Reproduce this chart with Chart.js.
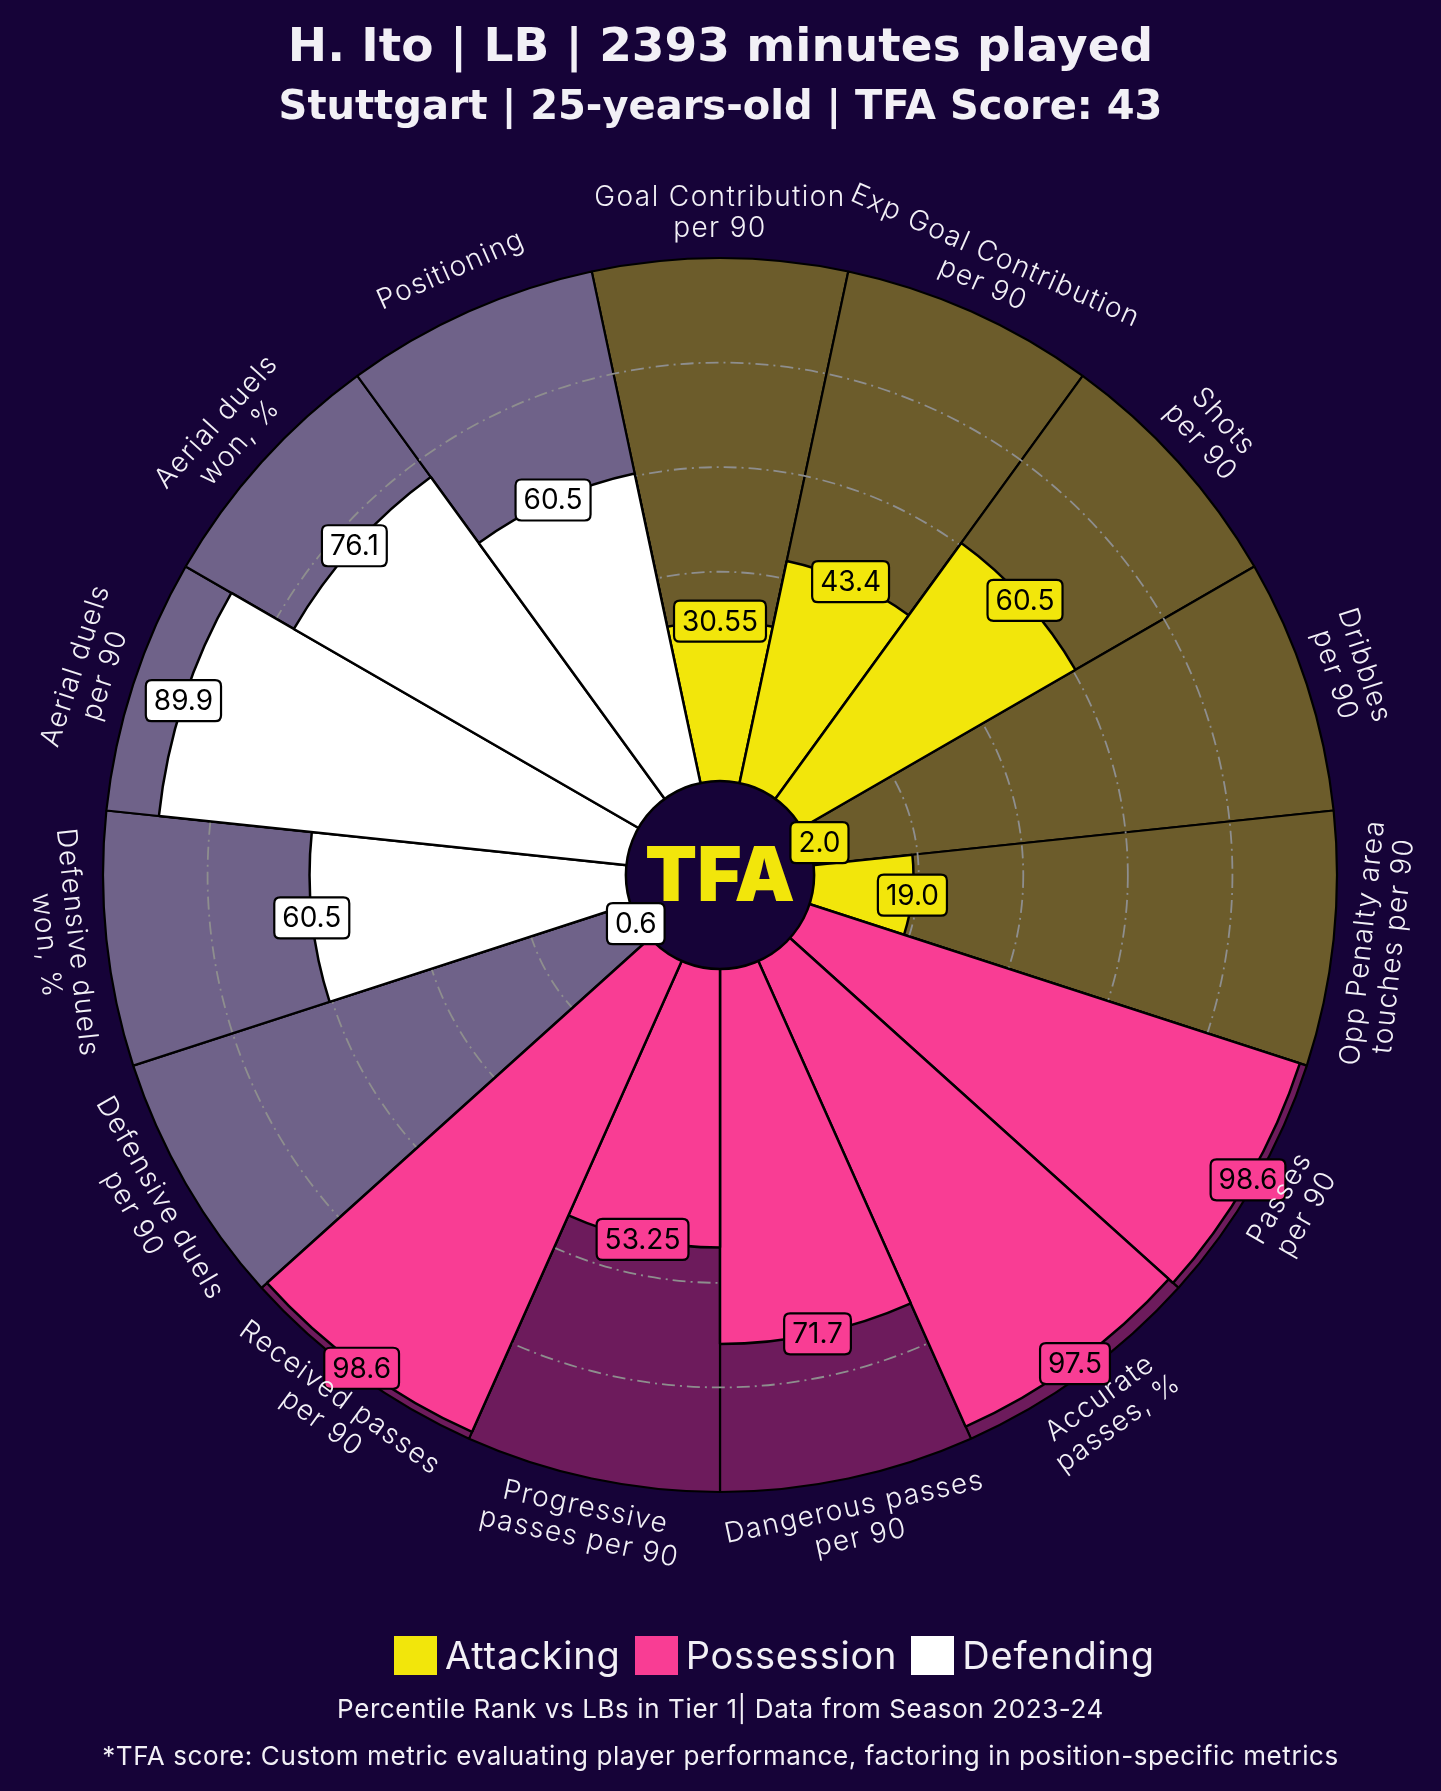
<!DOCTYPE html>
<html>
<head>
<meta charset="utf-8">
<script src="https://cdn.jsdelivr.net/npm/chart.js@4.4.1/dist/chart.umd.min.js"></script>
<style>
  html, body { margin: 0; padding: 0; background: #160338; }
  body { width: 1441px; height: 1791px; position: relative; overflow: hidden; font-family: Inter, 'Noto Sans', sans-serif; color: #f2f0f6; }
  #chart { position: absolute; left: 0; top: 0; }
  .line { position: absolute; left: 0; width: 1441px; text-align: center; white-space: nowrap; }
  #title { top: 19px; font-family: 'DejaVu Sans', sans-serif; font-size: 47px; line-height: 52px; font-weight: 700; }
  #subtitle { top: 83px; font-family: 'DejaVu Sans', sans-serif; font-size: 40px; line-height: 44px; font-weight: 700; }
  #legend { position: absolute; left: 394px; top: 1632px; height: 46px; display: flex; align-items: center; gap: 14px; }
  #legend .item { display: flex; align-items: center; gap: 8px; font-size: 38px; line-height: 46px; letter-spacing: 0.8px; }
  #legend .sw { width: 43px; height: 39px; display: inline-block; }
  #note1 { top: 1694px; font-size: 26px; line-height: 30px; letter-spacing: 0.6px; }
  #note2 { top: 1741px; font-size: 26px; line-height: 30px; letter-spacing: 0.6px; }
</style>
</head>
<body>
<canvas id="chart" width="1441" height="1791"></canvas>
<div class="line" id="title">H. Ito | LB | 2393 minutes played</div>
<div class="line" id="subtitle">Stuttgart | 25-years-old | TFA Score: 43</div>
<div id="legend"></div>
<div class="line" id="note1">Percentile Rank vs LBs in Tier 1| Data from Season 2023-24</div>
<div class="line" id="note2">*TFA score: Custom metric evaluating player performance, factoring in position-specific metrics</div>
<script>
// clockwise from the top
const categories = [
  ['Goal Contribution', 'per 90'],
  ['Exp Goal Contribution', 'per 90'],
  ['Shots', 'per 90'],
  ['Dribbles', 'per 90'],
  ['Opp Penalty area', 'touches per 90'],
  ['Passes', 'per 90'],
  ['Accurate', 'passes, %'],
  ['Dangerous passes', 'per 90'],
  ['Progressive', 'passes per 90'],
  ['Received passes', 'per 90'],
  ['Defensive duels', 'per 90'],
  ['Defensive duels', 'won, %'],
  ['Aerial duels', 'per 90'],
  ['Aerial duels', 'won, %'],
  ['Positioning']
];
const percentiles = [30.55, 43.4, 60.5, 2.0, 19.0, 98.6, 97.5, 71.7, 53.25, 98.6, 0.6, 60.5, 89.9, 76.1, 60.5];
const groupOf = ['att', 'att', 'att', 'att', 'att', 'pos', 'pos', 'pos', 'pos', 'pos', 'def', 'def', 'def', 'def', 'def'];
const fullRange = categories.map(() => 100);
const ringValues = [20, 40, 60, 80];

const groupNames = { att: 'Attacking', pos: 'Possession', def: 'Defending' };
const valueColors = { att: '#f2e60b', pos: '#f93d94', def: '#ffffff' };
const bgColors = { att: '#6c5c2b', pos: '#6d1b5c', def: '#6f6289' };
const BG = '#160338';

// legend
document.getElementById('legend').innerHTML = Object.keys(groupNames).map(g => `
  <span class="item"><span class="sw" style="background:${valueColors[g]}"></span>${groupNames[g]}</span>
`).join('');

function fmt(v) {
  return Math.abs(v * 10 - Math.round(v * 10)) < 1e-6 ? v.toFixed(1) : v.toFixed(2);
}

function roundRect(ctx, x, y, w, h, r) {
  ctx.beginPath();
  ctx.moveTo(x + r, y);
  ctx.lineTo(x + w - r, y);
  ctx.quadraticCurveTo(x + w, y, x + w, y + r);
  ctx.lineTo(x + w, y + h - r);
  ctx.quadraticCurveTo(x + w, y + h, x + w - r, y + h);
  ctx.lineTo(x + r, y + h);
  ctx.quadraticCurveTo(x, y + h, x, y + h - r);
  ctx.lineTo(x, y + r);
  ctx.quadraticCurveTo(x, y, x + r, y);
  ctx.closePath();
}

const pizzaPlugin = {
  id: 'pizza',
  // rings go over the background slices but under the value bars
  afterDatasetDraw(chart, args) {
    if (args.index !== 1) return;
    const r = chart.scales.r;
    const ctx = chart.ctx;
    ctx.save();
    ctx.strokeStyle = '#8e8e8e';
    ctx.lineWidth = 1.8;
    ctx.setLineDash([13, 5, 2, 5]);
    ringValues.forEach(v => {
      ctx.beginPath();
      ctx.arc(r.xCenter, r.yCenter, r.getDistanceFromCenterForValue(v), 0, Math.PI * 2);
      ctx.stroke();
    });
    ctx.restore();
  },
  afterDatasetsDraw(chart) {
    const r = chart.scales.r;
    const ctx = chart.ctx;
    const cx = r.xCenter, cy = r.yCenter;

    // center circle + logo
    ctx.save();
    ctx.beginPath();
    ctx.arc(cx, cy, r.getDistanceFromCenterForValue(0), 0, Math.PI * 2);
    ctx.fillStyle = BG;
    ctx.fill();
    ctx.lineWidth = 2.5;
    ctx.strokeStyle = '#000';
    ctx.stroke();
    ctx.fillStyle = '#f2e60b';
    ctx.font = '900 76px Inter, sans-serif';
    ctx.textAlign = 'center';
    ctx.textBaseline = 'middle';
    ctx.fillText('TFA', cx, cy + 3);
    ctx.restore();

    // value boxes at the end of each bar
    const arcs = chart.getDatasetMeta(0).data;
    ctx.save();
    ctx.font = '400 28px Inter, sans-serif';
    ctx.textAlign = 'center';
    ctx.textBaseline = 'middle';
    arcs.forEach((arc, i) => {
      const a = (arc.startAngle + arc.endAngle) / 2;
      const x = cx + arc.outerRadius * Math.cos(a);
      const y = cy + arc.outerRadius * Math.sin(a);
      const txt = fmt(percentiles[i]);
      const w = ctx.measureText(txt).width + 16;
      const h = 41;
      roundRect(ctx, x - w / 2, y - h / 2, w, h, 6);
      ctx.fillStyle = valueColors[groupOf[i]];
      ctx.fill();
      ctx.lineWidth = 2.2;
      ctx.strokeStyle = '#000';
      ctx.stroke();
      ctx.fillStyle = '#000';
      ctx.fillText(txt, x, y + 1);
    });
    ctx.restore();

    // category labels, tangent to the circle
    const labelR = r.getDistanceFromCenterForValue(100) + 45;
    ctx.save();
    ctx.font = '300 28px Inter, sans-serif';
    ctx.letterSpacing = '1.4px';
    ctx.fillStyle = '#f2f0f6';
    ctx.textAlign = 'center';
    ctx.textBaseline = 'middle';
    arcs.forEach((arc, i) => {
      const a = (arc.startAngle + arc.endAngle) / 2;
      let theta = a + Math.PI / 2; // from top, clockwise
      theta = (theta + Math.PI * 2) % (Math.PI * 2);
      const bottom = theta > Math.PI / 2 && theta < Math.PI * 1.5;
      const rot = bottom ? theta - Math.PI : theta;
      const lines = categories[i];
      ctx.save();
      ctx.translate(cx + labelR * Math.cos(a), cy + labelR * Math.sin(a));
      ctx.rotate(rot);
      lines.forEach((ln, k) => {
        ctx.fillText(ln, 0, (k - (lines.length - 1) / 2) * 31);
      });
      ctx.restore();
    });
    ctx.restore();
  }
};

new Chart(document.getElementById('chart'), {
  type: 'polarArea',
  data: {
    labels: categories,
    datasets: [
      {
        data: percentiles,
        backgroundColor: groupOf.map(g => valueColors[g]),
        borderColor: '#000',
        borderWidth: 2.5
      },
      {
        data: fullRange,
        backgroundColor: groupOf.map(g => bgColors[g]),
        borderColor: '#000',
        borderWidth: 2.2
      }
    ]
  },
  plugins: [pizzaPlugin],
  options: {
    responsive: false,
    animation: false,
    devicePixelRatio: 1,
    layout: { padding: { left: 103, right: 104, top: 258, bottom: 299 } },
    plugins: { legend: { display: false }, tooltip: { enabled: false } },
    scales: {
      r: {
        min: -18,
        max: 100,
        startAngle: -12,
        ticks: { display: false },
        grid: { display: false },
        angleLines: { display: false },
        pointLabels: { display: false }
      }
    }
  }
});
</script>
</body>
</html>
